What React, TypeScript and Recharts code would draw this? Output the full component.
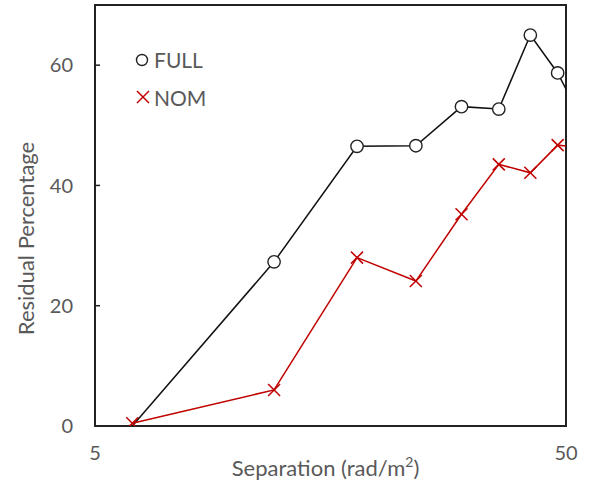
import React from "react";
import {
  LineChart,
  Line,
  XAxis,
  YAxis,
  ReferenceArea,
} from "recharts";

// Separation in rad/m^2 (log axis), residual percentage per config
const separation = [6, 12, 18, 24, 30, 36, 42, 48, 54];
const fullPct = [0, 27.3, 46.5, 46.6, 53.1, 52.7, 65.0, 58.7, 51];
const nomPct = [0.45, 6.0, 28.0, 24.1, 35.2, 43.5, 42.1, 46.7, 46.3];

const xTicks = [5, 50];
const yTicks = [0, 20, 40, 60];

const TEXT = "#595959";
const RED = "#C00000";
const FONT = "Lato, 'Open Sans', sans-serif";

const data = separation.map((s, i) => ({ sep: s, full: fullPct[i], nom: nomPct[i] }));

function CircleDot(props: any) {
  const { cx, cy, index } = props;
  if (cx == null || cy == null || index === 0) return <g key={`c-${index}`} />;
  return (
    <circle key={`c-${index}`} cx={cx} cy={cy} r={6.2} fill="#fff" stroke="#222" strokeWidth={1.4} />
  );
}

function CrossDot(props: any) {
  const { cx, cy, index } = props;
  if (cx == null || cy == null) return <g key={`x-${index}`} />;
  const s = 6;
  return (
    <g key={`x-${index}`} stroke={RED} strokeWidth={1.5}>
      <line x1={cx - s} y1={cy - s} x2={cx + s} y2={cy + s} />
      <line x1={cx - s} y1={cy + s} x2={cx + s} y2={cy - s} />
    </g>
  );
}

function YTick(props: any) {
  const { x, y, payload } = props;
  return (
    <g>
      {payload.value !== 0 ? <line x1={x} y1={y} x2={x + 5} y2={y} stroke="#222" strokeWidth={1.5} /> : null}
      <text x={x - 22} y={y} dy="0.36em" textAnchor="end" fill={TEXT} fontSize={20} fontFamily={FONT}>
        {payload.value}
      </text>
    </g>
  );
}

function XTick(props: any) {
  const { x, y, payload } = props;
  return (
    <text x={x} y={y + 34} textAnchor="middle" fill={TEXT} fontSize={20} fontFamily={FONT}>
      {payload.value}
    </text>
  );
}

function YTitle(props: any) {
  const vb = props.viewBox;
  const cx = vb.x + 25;
  const cy = vb.y + vb.height / 2 + 23;
  return (
    <text
      x={cx}
      y={cy}
      transform={`rotate(-90 ${cx} ${cy})`}
      textAnchor="middle"
      dominantBaseline="central"
      fill={TEXT}
      fontSize={22}
      fontFamily={FONT}
    >
      Residual Percentage
    </text>
  );
}

function XTitle(props: any) {
  const vb = props.viewBox;
  return (
    <text x={vb.x + vb.width / 2 - 5} y={vb.y + 50} textAnchor="middle" fill={TEXT} fontSize={22} fontFamily={FONT}>
      Separation (rad/m
      <tspan fontSize={14} dy={-9}>2</tspan>
      <tspan dy={9}>)</tspan>
    </text>
  );
}

function LegendBox() {
  return (
    <svg width={110} height={70} style={{ position: "absolute", left: 130, top: 45 }}>
      <circle cx={12} cy={15} r={5.5} fill="#fff" stroke="#222" strokeWidth={1.4} />
      <text x={24} y={23} fill={TEXT} fontSize={21} fontFamily={FONT}>FULL</text>
      <g stroke={RED} strokeWidth={1.5}>
        <line x1={7} y1={46} x2={19} y2={58} />
        <line x1={7} y1={58} x2={19} y2={46} />
      </g>
      <text x={24} y={61} fill={TEXT} fontSize={21} fontFamily={FONT}>NOM</text>
    </svg>
  );
}

export default function App() {
  return (
    <div style={{ position: "absolute", left: 0, top: 0, width: 594, height: 485, background: "#fff" }}>
      <LineChart width={594} height={485} data={data} margin={{ top: 5, right: 28, bottom: 0, left: 0 }}>
        <XAxis
          dataKey="sep"
          type="number"
          scale="log"
          domain={[5, 50]}
          ticks={xTicks}
          allowDataOverflow
          axisLine={false}
          tickLine={false}
          tickSize={0}
          tickMargin={0}
          height={59}
          tick={<XTick />}
          label={<XTitle />}
        />
        <YAxis
          type="number"
          domain={[0, 70]}
          ticks={yTicks}
          allowDataOverflow
          axisLine={false}
          tickLine={false}
          tickSize={0}
          tickMargin={0}
          width={95}
          tick={<YTick />}
          label={<YTitle />}
        />
        <ReferenceArea x1={5} x2={50} y1={0} y2={70} fill="none" stroke="#222" strokeWidth={2} />
        <Line
          dataKey="full"
          stroke="#111"
          strokeWidth={1.5}
          dot={(p: any) => <CircleDot {...p} />}
          isAnimationActive={false}
        />
        <Line
          dataKey="nom"
          stroke={RED}
          strokeWidth={1.5}
          dot={(p: any) => <CrossDot {...p} />}
          isAnimationActive={false}
        />
      </LineChart>
      <LegendBox />
    </div>
  );
}
